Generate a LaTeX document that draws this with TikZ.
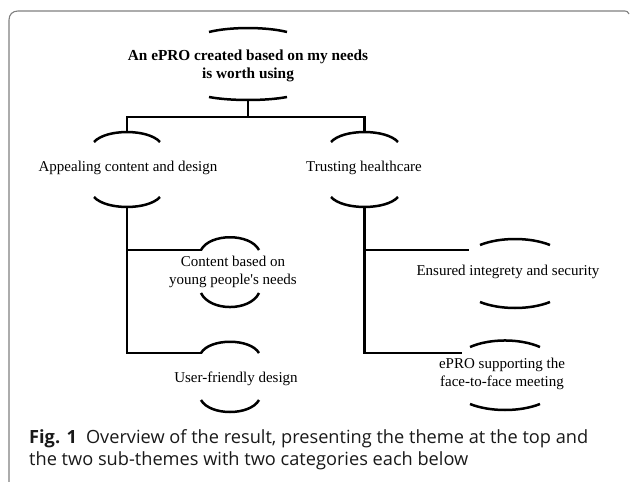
\documentclass[tikz,border=0pt]{standalone}
\usepackage{fontspec}
\setmainfont{Liberation Serif}[Ligatures=TeXOff]
\newfontfamily\capfont{Open Sans}
\begin{document}
\begin{tikzpicture}[x=1pt,y=-1pt,
  conn/.style={line width=2.7pt,line cap=butt,line join=miter},
  brk/.style={line width=2.5pt,line cap=butt},
  lbl/.style={inner sep=0pt,align=center,font=\fontsize{15}{17.5}\selectfont},
  caplbl/.style={inner sep=0pt,anchor=base west,text=black!90,font=\capfont\fontsize{18.2}{22}\selectfont},
  frame/.style={draw=black!50,line width=1.1pt}]
\useasboundingbox (0,0) rectangle (630,482);
% frame
\draw[frame] (9,482) -- (9,20) .. controls (9,14.5) and (12.5,11) .. (18,11) -- (625,11) .. controls (627,11) and (628,12) .. (629,14);
% texts
\node[lbl,font=\bfseries\fontsize{15.3}{18}\selectfont] (theme) at (248,66) {An ePRO created based on my needs\\is worth using};
\node[lbl] (sub1) at (128,168) {Appealing content and design};
\node[lbl] (sub2) at (364,168) {Trusting healthcare};
\node[lbl] (cat1) at (233,272) {Content based on\\young people's needs};
\node[lbl] (cat2) at (236,379) {User-friendly design};
\node[lbl] (cat3) at (508,272) {Ensured integrety and security};
\node[lbl] (cat4) at (502,374) {ePRO supporting the\\face-to-face meeting};
% brackets
\draw[brk] (209,32) .. controls (230,26.7) and (266,26.7) .. (287,32);
\draw[brk] (209,97) .. controls (230,101) and (266,101) .. (287,97);
\draw[brk] (94,142) .. controls (106,128.7) and (148,128.7) .. (160,142);
\draw[brk] (331,142) .. controls (343,128.7) and (386,128.7) .. (398,142);
\draw[brk] (94,197) .. controls (106,210.3) and (148,210.3) .. (160,197);
\draw[brk] (331,197) .. controls (343,210.3) and (386,210.3) .. (398,197);
\draw[brk] (201,250) .. controls (210,233) and (250,233) .. (259,250);
\draw[brk] (201,293) .. controls (210,311.7) and (250,311.7) .. (259,293);
\draw[brk] (201,353) .. controls (210,338) and (250,338) .. (259,353);
\draw[brk] (201,400) .. controls (210,416) and (250,416) .. (259,400);
\draw[brk] (480,245) .. controls (500,237) and (530,237) .. (550,245);
\draw[brk] (480,302) .. controls (500,310) and (530,310) .. (550,302);
\draw[brk] (470,347) .. controls (490,338.3) and (520,338.3) .. (540,347);
\draw[brk] (470,404) .. controls (490,412) and (520,412) .. (540,404);
% connector points
\coordinate (t-bot) at (248,100);
\coordinate (bar) at (248,117);
\coordinate (s1-top) at (127,132);
\coordinate (s2-top) at (364.5,132);
\coordinate (s1-bot) at (127,207);
\coordinate (s2-bot) at (364.5,207);
\coordinate (c1-w) at (202,250);
\coordinate (c2-w) at (202,353);
\coordinate (c3-w) at (469,250);
\coordinate (c4-w) at (462,353);
% connectors
\draw[conn] (t-bot) -- (bar) -| (s1-top);
\draw[conn] (bar) -| (s2-top);
\draw[conn] (s1-bot) |- (c2-w);
\draw[conn] (s1-bot) |- (c1-w);
\draw[conn] (s2-bot) |- (c4-w);
\draw[conn] (s2-bot) |- (c3-w);
% caption
\node[caplbl] (cap1) at (29,443) {\textbf{Fig. 1}\hspace{0.5em}Overview of the result, presenting the theme at the top and};
\node[caplbl] (cap2) at (29,465) {the two sub-themes with two categories each below};
\end{tikzpicture}
\end{document}
